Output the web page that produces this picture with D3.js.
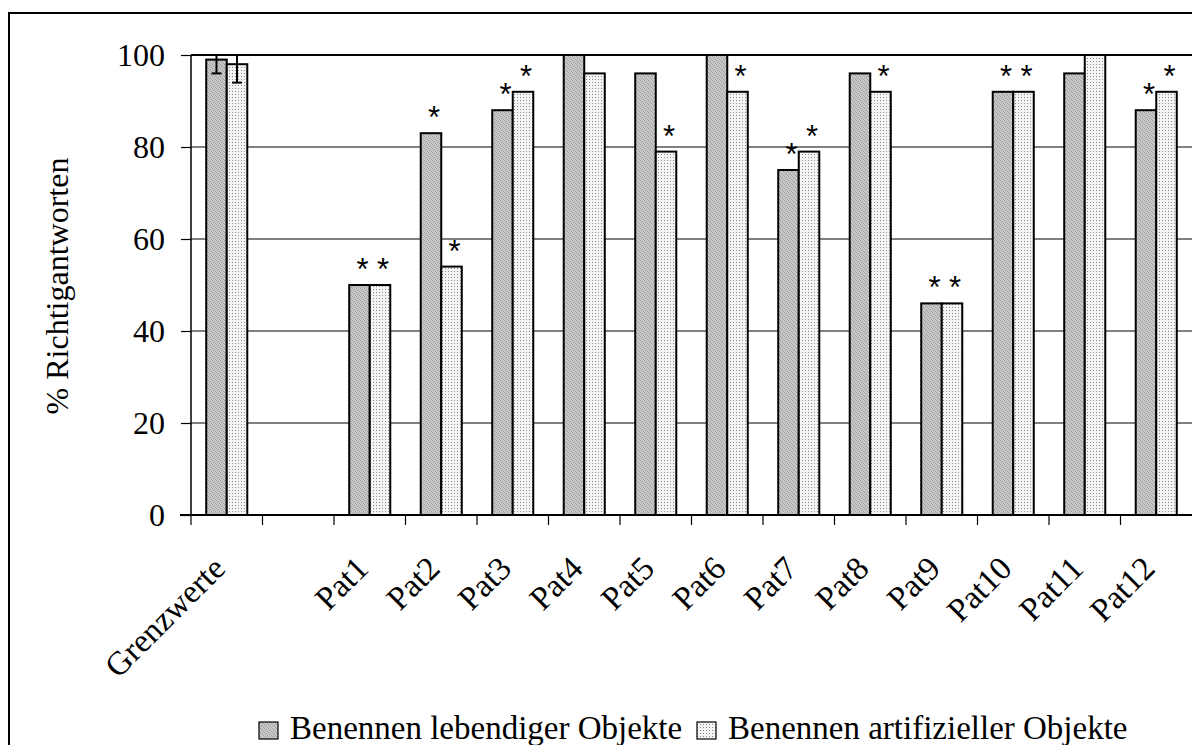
<!DOCTYPE html>
<html>
<head>
<meta charset="utf-8">
<script src="https://cdn.jsdelivr.net/npm/d3@7"></script>
<style>
  body { margin: 0; background: #fff; }
  text { font-family: "Liberation Serif", "Times New Roman", serif; }
</style>
</head>
<body>
<script>
var width = 1192;
var height = 745;

// data
var categories = ["Grenzwerte", "", "Pat1", "Pat2", "Pat3", "Pat4", "Pat5", "Pat6",
                  "Pat7", "Pat8", "Pat9", "Pat10", "Pat11", "Pat12"];
var lebendig =   [99, null, 50, 83, 88, 100, 96, 100, 75, 96, 46, 92, 96, 88];
var artifiziell = [98, null, 50, 54, 92, 96, 79, 92, 79, 92, 46, 92, 100, 92];
var starLebendig =   [0, 0, 1, 1, 1, 0, 0, 0, 1, 0, 1, 1, 0, 1];
var starArtifiziell = [0, 0, 1, 1, 1, 0, 1, 1, 1, 1, 1, 1, 0, 1];
var errLebendig = [3, null, null, null, null, null, null, null, null, null, null, null, null, null];
var errArtifiziell = [4, null, null, null, null, null, null, null, null, null, null, null, null, null];
var yTicks = [0, 20, 40, 60, 80, 100];
var seriesNames = ["Benennen lebendiger Objekte", "Benennen artifizieller Objekte"];

var svg = d3.select("body").append("svg")
    .attr("width", width)
    .attr("height", height);

// fill patterns
var defs = svg.append("defs");
var pGray = defs.append("pattern").attr("id", "pgray")
    .attr("patternUnits", "userSpaceOnUse").attr("width", 4).attr("height", 4);
pGray.append("rect").attr("width", 4).attr("height", 4).attr("fill", "#c8c8c8");
[[0, 0], [2, 1], [1, 2], [3, 3]].forEach(function(p) {
    pGray.append("rect").attr("x", p[0]).attr("y", p[1]).attr("width", 1).attr("height", 1).attr("fill", "#9c9c9c");
});
var pDot = defs.append("pattern").attr("id", "pdot")
    .attr("patternUnits", "userSpaceOnUse").attr("width", 3).attr("height", 3);
pDot.append("rect").attr("width", 3).attr("height", 3).attr("fill", "#f4f4f4");
pDot.append("rect").attr("x", 1).attr("y", 1).attr("width", 1).attr("height", 1).attr("fill", "#8c8c8c");

// outer frame
svg.append("rect")
    .attr("x", 9).attr("y", 13)
    .attr("width", 1300).attr("height", 900)
    .attr("fill", "none").attr("stroke", "#000").attr("stroke-width", 2);

var x0 = d3.scaleBand().domain(d3.range(categories.length)).range([191, 1192]);
var y = d3.scaleLinear().domain([0, 100]).range([515, 55]);
var barW = x0.bandwidth() * 0.287;

// gridlines
svg.append("g")
    .selectAll("line")
    .data(yTicks.filter(function(t) { return t > 0 && t < 100; }))
    .enter().append("line")
    .attr("x1", 191).attr("x2", 1192)
    .attr("y1", function(d) { return y(d); })
    .attr("y2", function(d) { return y(d); })
    .attr("stroke", "#000").attr("stroke-width", 1);

// bars
var series = [
    {vals: lebendig, stars: starLebendig, errs: errLebendig, fill: "url(#pgray)", off: -1},
    {vals: artifiziell, stars: starArtifiziell, errs: errArtifiziell, fill: "url(#pdot)", off: 0}
];
series.forEach(function(s) {
    var g = svg.append("g");
    var idx = d3.range(categories.length).filter(function(i) { return s.vals[i] != null; });
    g.selectAll("rect")
        .data(idx)
        .enter().append("rect")
        .attr("x", function(i) { return x0(i) + x0.bandwidth() / 2 + s.off * barW; })
        .attr("y", function(i) { return y(s.vals[i]); })
        .attr("width", barW)
        .attr("height", function(i) { return y(0) - y(s.vals[i]); })
        .attr("fill", s.fill)
        .attr("stroke", "#000").attr("stroke-width", 2);

    // error bars (minus direction)
    var eIdx = idx.filter(function(i) { return s.errs[i] != null; });
    eIdx.forEach(function(i) {
        var cx = x0(i) + x0.bandwidth() / 2 + s.off * barW + barW / 2;
        g.append("line")
            .attr("x1", cx).attr("x2", cx)
            .attr("y1", y(Math.min(100, s.vals[i] + s.errs[i])))
            .attr("y2", y(s.vals[i] - s.errs[i]))
            .attr("stroke", "#000").attr("stroke-width", 2);
        g.append("line")
            .attr("x1", cx - 5).attr("x2", cx + 5)
            .attr("y1", y(s.vals[i] - s.errs[i]))
            .attr("y2", y(s.vals[i] - s.errs[i]))
            .attr("stroke", "#000").attr("stroke-width", 2);
    });

    // asterisks
    g.selectAll("text.star")
        .data(idx.filter(function(i) { return s.stars[i]; }))
        .enter().append("text")
        .attr("class", "star")
        .attr("x", function(i) { return x0(i) + x0.bandwidth() / 2 + s.off * barW + barW / 2 + 3; })
        .attr("y", function(i) { return y(s.vals[i]) - 5; })
        .attr("text-anchor", "middle")
        .style("font-family", "'Liberation Sans', Arial, sans-serif")
        .style("font-size", "31px")
        .text("*");
});

// plot top border
svg.append("line")
    .attr("x1", 191).attr("x2", 1192)
    .attr("y1", 55).attr("y2", 55)
    .attr("stroke", "#000").attr("stroke-width", 2);

// y axis
var yAxis = d3.axisLeft(y).tickValues(yTicks).tickSize(10).tickPadding(16);
var gy = svg.append("g").attr("transform", "translate(191,0)").call(yAxis);
gy.select(".domain").attr("stroke-width", 1.5).attr("d", "M0,55V515");
gy.selectAll(".tick line").attr("stroke-width", 1.2);
gy.selectAll("text")
    .style("font-family", "'Liberation Serif', serif")
    .style("font-size", "32px")
    .attr("fill", "#000");

// x axis
svg.append("line")
    .attr("x1", 180).attr("x2", 1192)
    .attr("y1", y(0)).attr("y2", y(0))
    .attr("stroke", "#000").attr("stroke-width", 2);
svg.append("g")
    .selectAll("line")
    .data(d3.range(categories.length))
    .enter().append("line")
    .attr("x1", function(i) { return x0(i); })
    .attr("x2", function(i) { return x0(i); })
    .attr("y1", y(0)).attr("y2", y(0) + 10)
    .attr("stroke", "#000").attr("stroke-width", 1.2);

svg.append("g")
    .selectAll("text")
    .data(d3.range(categories.length))
    .enter().append("text")
    .attr("transform", function(i) {
        return "translate(" + (x0(i) + x0.bandwidth() / 2 - 16) + ",554) rotate(-45)";
    })
    .attr("text-anchor", "end")
    .attr("dy", "0.7em")
    .style("font-size", "33px")
    .text(function(i) { return categories[i]; });

// y title
svg.append("text")
    .attr("transform", "translate(68,286) rotate(-90)")
    .attr("text-anchor", "middle")
    .style("font-size", "32px")
    .text("% Richtigantworten");

// legend
var legX = [259, 697];
var legText = svg.append("g");
seriesNames.forEach(function(name, k) {
    legText.append("rect")
        .attr("x", legX[k]).attr("y", 722)
        .attr("width", 19).attr("height", 17)
        .attr("fill", k === 0 ? "url(#pgray)" : "url(#pdot)")
        .attr("stroke", "#000").attr("stroke-width", 1.2);
    legText.append("text")
        .attr("x", legX[k] + 31).attr("y", 739)
        .style("font-size", "33px")
        .text(name);
});
</script>
</body>
</html>
